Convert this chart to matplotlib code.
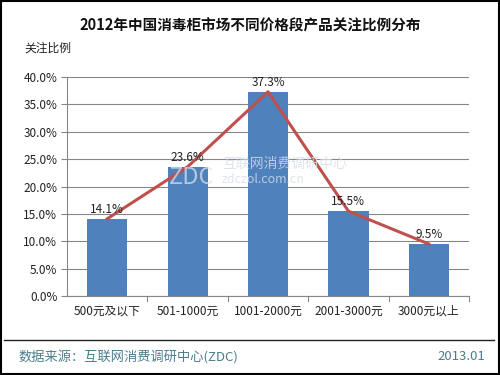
import matplotlib
matplotlib.use("Agg")
import matplotlib.pyplot as plt
from matplotlib.lines import Line2D
from matplotlib.patches import Rectangle

plt.rcParams['font.family'] = ['Noto Sans CJK SC', 'DejaVu Sans']

categories = ["500元及以下", "501-1000元", "1001-2000元", "2001-3000元", "3000元以上"]
values = [14.1, 23.6, 37.3, 15.5, 9.5]
yticks = [0, 5, 10, 15, 20, 25, 30, 35, 40]

fig = plt.figure(figsize=(5, 3.75), dpi=100)
W, H = 500, 375
ax = fig.add_axes([67/W, 1-296/H, (469-67)/W, (296-77)/H])

x = list(range(len(categories)))
ax.bar(x, values, width=0.5, color="#4f81bd", zorder=2)
ax.plot(x, values, color="#c0504d", lw=2.2, zorder=3)
for xi, v in zip(x, values):
    ax.text(xi, v + 0.5, f"{v:.1f}%", ha="center", va="bottom", fontsize=8.5, color="#222222", zorder=4)

ax.set_xlim(-0.5, 4.5)
ax.set_ylim(0, 40)
ax.set_yticks(yticks)
ax.set_yticklabels([f"{t:.1f}%" for t in yticks], fontsize=8.5, color="#222222")
ax.set_xticks(x)
ax.set_xticklabels(categories, fontsize=8.5, color="#222222")
ax.yaxis.grid(True, color="#868686", lw=0.8, zorder=0)
ax.set_axisbelow(True)
for s in ["top", "right"]:
    ax.spines[s].set_visible(False)
ax.spines["left"].set_color("#868686")
ax.spines["bottom"].set_color("#868686")
ax.tick_params(axis="y", length=4, color="#868686", pad=3)
ax.tick_params(axis="x", length=0, pad=6)
for b in [0.5, 1.5, 2.5, 3.5, 4.5]:
    ax.plot([b, b], [0, -0.9], color="#868686", lw=0.8, clip_on=False)

# watermark
fig.text(222/W, 1-164/H, "互联网消费调研中心", fontsize=10, color="#d6dee8", ha="left", va="center", zorder=5, alpha=0.8)
fig.text(222/W, 1-179/H, "zdczol.com.cn", fontsize=9, color="#d6dee8", ha="left", va="center", zorder=5, alpha=0.8)
fig.text(192/W, 1-177/H, "ZDC", fontsize=17, color="#dfe5ec", ha="center", va="center", zorder=5, alpha=0.7)

fig.text(0.5, 1-26/H, "2012年中国消毒柜市场不同价格段产品关注比例分布", ha="center", va="center",
         fontsize=10.5, fontweight="bold", color="#111111")
fig.text(24/W, 1-48/H, "关注比例", ha="left", va="center", fontsize=8.5, color="#222222")

fig.add_artist(Line2D([4/W, 494/W], [1-340/H, 1-340/H], color="#222222", lw=1))
fig.text(18/W, 1-357/H, "数据来源：互联网消费调研中心(ZDC)", ha="left", va="center", fontsize=9.5, color="#4b7d8c")
fig.text(485/W, 1-357/H, "2013.01", ha="right", va="center", fontsize=9.5, color="#4b7d8c")

fig.add_artist(Rectangle((1/W, 1/H), 1-2/W, 1-2/H, fill=False, edgecolor="#000000", lw=1.5, transform=fig.transFigure))

fig.savefig("out.png", dpi=100)
